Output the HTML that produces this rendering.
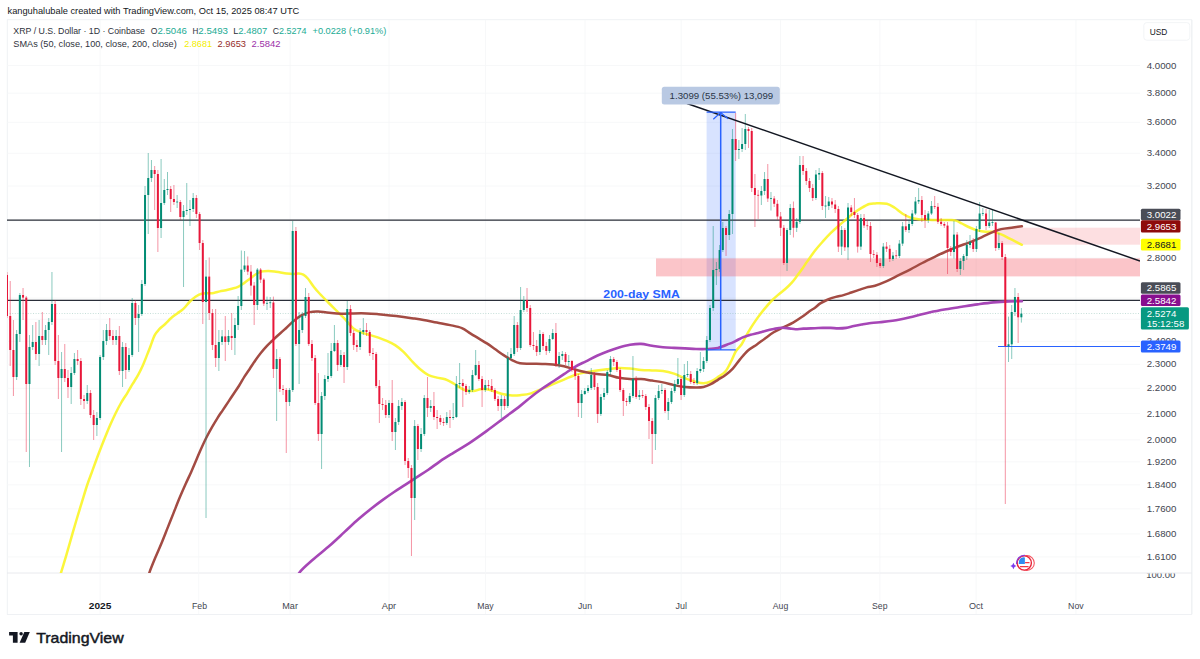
<!DOCTYPE html>
<html><head><meta charset="utf-8"><title>XRP / U.S. Dollar chart</title>
<style>html,body{margin:0;padding:0;background:#fff;}body{width:1200px;height:659px;overflow:hidden;}svg{display:block;}</style>
</head><body>
<svg width="1200" height="659" viewBox="0 0 1200 659" font-family="'Liberation Sans', Arial, Helvetica, sans-serif">
<rect width="1200" height="659" fill="#ffffff"/>
<rect x="7.25" y="19.75" width="1184.5" height="594.75" fill="none" stroke="#eceef2" stroke-width="0.8"/>
<path d="M7 573H1192" stroke="#e6e8ec" stroke-width="0.9"/>
<path d="M1192 20V614" stroke="#eef0f3" stroke-width="0.8"/>
<path d="M7 65.5H1140M7 93.2H1140M7 122.39H1140M7 153.26H1140M7 186H1140M7 220.85H1140M7 258.1H1140M7 298.12H1140M7 319.3H1140M7 341.35H1140M7 364.33H1140M7 388.33H1140M7 413.45H1140M7 439.8H1140M7 461.84H1140M7 484.83H1140M7 508.83H1140M7 533.95H1140M7 556.93H1140M100.1 20V614M198.7 20V614M290.1 20V614M389 20V614M485.5 20V614M585 20V614M681.2 20V614M780.5 20V614M879.8 20V614M976.1 20V614M1075.9 20V614" stroke="#f5f6f8" stroke-width="0.8" fill="none"/>
<defs><clipPath id="pane"><rect x="7" y="20" width="1133" height="553"/></clipPath></defs>
<g clip-path="url(#pane)">
<rect x="706.6" y="112" width="29.1" height="238" fill="#2962ff" fill-opacity="0.18"/>
<rect x="656" y="258.4" width="484" height="18" fill="#f23645" fill-opacity="0.29"/>
<rect x="996" y="227.7" width="144" height="17" fill="#f23645" fill-opacity="0.16"/>
<path d="M7 313.4H1140" stroke="#7fb8aa" stroke-width="0.7" stroke-dasharray="1 1.6" opacity="0.7"/>
<path d="M998 346.5H1140" stroke="#2962ff" stroke-width="1.1"/>
<path d="M7 220.2H1140M7 300.4H1140" stroke="#2a2e39" stroke-width="1.2"/>
<path d="M58 584C58.53 582.02 59.88 576.65 61.2 572.1C62.52 567.55 64.23 562.37 65.9 556.7C67.57 551.03 69.42 544.3 71.2 538.1C72.98 531.9 74.82 525.48 76.6 519.5C78.38 513.52 80.13 507.95 81.9 502.2C83.67 496.45 85.43 490.3 87.2 485C88.97 479.7 90.87 474.9 92.5 470.4C94.13 465.9 95.5 462.02 97 458C98.5 453.98 100 450.13 101.5 446.3C103 442.47 104.5 438.67 106 435C107.5 431.33 108.92 427.88 110.5 424.3C112.08 420.72 113.75 417.05 115.5 413.5C117.25 409.95 119.02 406.45 121 403C122.98 399.55 125.43 396.02 127.4 392.8C129.37 389.58 130.98 386.73 132.8 383.7C134.62 380.67 136.63 377.63 138.3 374.6C139.97 371.57 141.43 368.53 142.8 365.5C144.17 362.47 145.28 359.43 146.5 356.4C147.72 353.37 148.75 350.8 150.1 347.3C151.45 343.8 153.1 338.38 154.6 335.4C156.1 332.42 157.33 331.3 159.1 329.4C160.87 327.5 163.18 325.9 165.2 324C167.22 322.1 169.18 319.77 171.2 318C173.22 316.23 175.27 314.92 177.3 313.4C179.33 311.88 181.37 310.8 183.4 308.9C185.43 307 187.48 304.03 189.5 302C191.52 299.97 193.48 298.08 195.5 296.7C197.52 295.32 199.57 294.28 201.6 293.7C203.63 293.12 205.68 293.33 207.7 293.2C209.72 293.07 211.68 293.2 213.7 292.9C215.72 292.6 217.77 291.85 219.8 291.4C221.83 290.95 223.88 290.65 225.9 290.2C227.92 289.75 229.88 289.25 231.9 288.7C233.92 288.15 235.97 287.83 238 286.9C240.03 285.97 242.07 284.5 244.1 283.1C246.13 281.7 248.18 280.02 250.2 278.5C252.22 276.98 254.18 275.18 256.2 274C258.22 272.82 260.27 271.92 262.3 271.4C264.33 270.88 266.38 270.9 268.4 270.9C270.42 270.9 272.38 271.13 274.4 271.4C276.42 271.67 278.47 272.15 280.5 272.5C282.53 272.85 284.58 273.25 286.6 273.5C288.62 273.75 290.58 274 292.6 274C294.62 274 296.92 273.38 298.7 273.5C300.48 273.62 301.78 273.87 303.3 274.7C304.82 275.53 306.03 276.47 307.8 278.5C309.57 280.53 311.87 284.32 313.9 286.9C315.93 289.48 317.6 291.4 320 294C322.4 296.6 325.52 299.68 328.3 302.5C331.08 305.32 333.92 308.12 336.7 310.9C339.48 313.68 342.22 316.28 345 319.2C347.78 322.12 350.62 326.17 353.4 328.4C356.18 330.63 358.92 331.48 361.7 332.6C364.48 333.72 367.32 334.27 370.1 335.1C372.88 335.93 375.62 336.63 378.4 337.6C381.18 338.57 384.02 339.65 386.8 340.9C389.58 342.15 392.32 343.28 395.1 345.1C397.88 346.92 400.72 349.15 403.5 351.8C406.28 354.45 409.02 358.08 411.8 361C414.58 363.92 417.42 366.95 420.2 369.3C422.98 371.65 425.72 373.72 428.5 375.1C431.28 376.48 434.12 376.9 436.9 377.6C439.68 378.3 442.42 378.32 445.2 379.3C447.98 380.28 451.37 382.25 453.6 383.5C455.83 384.75 456.67 385.68 458.6 386.8C460.53 387.92 462.7 389.5 465.2 390.2C467.7 390.9 471.08 391.15 473.6 391C476.12 390.85 478.08 389.58 480.3 389.3C482.52 389.02 484.4 388.88 486.9 389.3C489.4 389.72 492.52 390.97 495.3 391.8C498.08 392.63 500.82 393.68 503.6 394.3C506.38 394.92 509.27 395.35 512 395.5C514.73 395.65 516.83 395.55 520 395.2C523.17 394.85 527.33 394.47 531 393.4C534.67 392.33 538.33 390.33 542 388.8C545.67 387.27 549.33 385.73 553 384.2C556.67 382.67 560.33 381.13 564 379.6C567.67 378.07 571.33 376.22 575 375C578.67 373.78 582.33 373.05 586 372.3C589.67 371.55 593.33 371.02 597 370.5C600.67 369.98 604.33 369.6 608 369.2C611.67 368.8 615.33 368.2 619 368.1C622.67 368 626.33 368.3 630 368.6C633.67 368.9 637.33 369.58 641 369.9C644.67 370.22 648.33 370.32 652 370.5C655.67 370.68 659.33 370.48 663 371C666.67 371.52 670.92 372.62 674 373.6C677.08 374.58 679.03 375.9 681.5 376.9C683.97 377.9 686.38 378.75 688.8 379.6C691.22 380.45 693.55 381.38 696 382C698.45 382.62 701.03 383.38 703.5 383.3C705.97 383.22 708.35 382.57 710.8 381.5C713.25 380.43 715.75 378.58 718.2 376.9C720.65 375.22 723.32 374.05 725.5 371.4C727.68 368.75 729.55 364.4 731.3 361C733.05 357.6 734.3 353.75 736 351C737.7 348.25 739.95 346.77 741.5 344.5C743.05 342.23 743.8 340.08 745.3 337.4C746.8 334.72 748.78 331.2 750.5 328.4C752.22 325.6 753.88 323.08 755.6 320.6C757.32 318.12 759.07 315.75 760.8 313.5C762.53 311.25 764.07 309.35 766 307.1C767.93 304.85 770.25 302.15 772.4 300C774.55 297.85 776.75 296.03 778.9 294.2C781.05 292.37 783.15 290.93 785.3 289C787.45 287.07 789.87 284.75 791.8 282.6C793.73 280.45 795.18 278.37 796.9 276.1C798.62 273.83 800.37 271.45 802.1 269C803.83 266.55 805.13 264.48 807.3 261.4C809.47 258.32 812.5 253.83 815.1 250.5C817.7 247.17 820.32 244.28 822.9 241.4C825.48 238.52 828.02 235.77 830.6 233.2C833.18 230.63 835.82 228.28 838.4 226C840.98 223.72 843.53 221.65 846.1 219.5C848.67 217.35 851.22 215.03 853.8 213.1C856.38 211.17 859.02 209.42 861.6 207.9C864.18 206.38 867.07 204.75 869.3 204C871.53 203.25 872.08 203.43 875 203.4C877.92 203.37 883.52 203.07 886.8 203.8C890.08 204.53 892.07 206.15 894.7 207.8C897.33 209.45 899.97 212.07 902.6 213.7C905.23 215.33 907.87 216.68 910.5 217.6C913.13 218.52 915.77 218.87 918.4 219.2C921.03 219.53 923.67 219.47 926.3 219.6C928.93 219.73 931.57 219.93 934.2 220C936.83 220.07 939.47 220 942.1 220C944.73 220 947.7 219.9 950 220C952.3 220.1 953.93 220.02 955.9 220.6C957.87 221.18 959.5 222.35 961.8 223.5C964.1 224.65 967.07 226.35 969.7 227.5C972.33 228.65 974.97 229.68 977.6 230.4C980.23 231.12 982.88 231.57 985.5 231.8C988.12 232.03 990.68 231.37 993.3 231.8C995.92 232.23 998.57 233.32 1001.2 234.4C1003.83 235.48 1006.47 236.98 1009.1 238.3C1011.73 239.62 1014.87 241.22 1017 242.3C1019.13 243.38 1021.08 244.38 1021.9 244.8" stroke="#faf520" stroke-width="2.5" stroke-opacity="0.88" fill="none" stroke-linejoin="round" stroke-linecap="round"/>
<path d="M146 584C146.58 582.05 147.87 576.88 149.5 572.3C151.13 567.72 153.77 561.43 155.8 556.5C157.83 551.57 159.73 547.47 161.7 542.7C163.67 537.93 165.63 532.83 167.6 527.9C169.57 522.97 171.53 518.03 173.5 513.1C175.47 508.17 177.42 503.07 179.4 498.3C181.38 493.53 183.42 488.93 185.4 484.5C187.38 480.07 189.45 475.87 191.3 471.7C193.15 467.53 194.88 463.28 196.5 459.5C198.12 455.72 199.35 452.67 201 449C202.65 445.33 204.58 441.1 206.4 437.5C208.22 433.9 210.08 430.6 211.9 427.4C213.72 424.2 215.48 421.18 217.3 418.3C219.12 415.42 220.97 412.83 222.8 410.1C224.63 407.37 226.48 404.63 228.3 401.9C230.12 399.17 231.88 396.43 233.7 393.7C235.52 390.97 237.38 388.38 239.2 385.5C241.02 382.62 242.78 379.28 244.6 376.4C246.42 373.52 248.27 370.93 250.1 368.2C251.93 365.47 253.78 362.57 255.6 360C257.42 357.43 259.18 355.07 261 352.8C262.82 350.53 264.67 348.37 266.5 346.4C268.33 344.43 270.17 342.77 272 341C273.83 339.23 275.43 337.68 277.5 335.8C279.57 333.92 281.83 332.07 284.4 329.7C286.97 327.33 290.07 323.98 292.9 321.6C295.73 319.22 298.57 316.98 301.4 315.4C304.23 313.82 307.08 312.75 309.9 312.1C312.72 311.45 315.48 311.42 318.3 311.5C321.12 311.58 323.73 312.28 326.8 312.6C329.87 312.92 333.67 313.22 336.7 313.4C339.73 313.58 342.22 313.7 345 313.7C347.78 313.7 349.78 313.45 353.4 313.4C357.02 313.35 362.53 313.27 366.7 313.4C370.87 313.53 374.5 313.87 378.4 314.2C382.3 314.53 385.92 314.93 390.1 315.4C394.28 315.87 399.6 316.5 403.5 317C407.4 317.5 410.17 317.9 413.5 318.4C416.83 318.9 419.6 319.3 423.5 320C427.4 320.7 432.45 321.75 436.9 322.6C441.35 323.45 446.03 324.18 450.2 325.1C454.37 326.02 458.55 326.72 461.9 328.1C465.25 329.48 467.52 331.68 470.3 333.4C473.08 335.12 475.83 336.73 478.6 338.4C481.37 340.07 484.12 341.58 486.9 343.4C489.68 345.22 492.52 347.35 495.3 349.3C498.08 351.25 500.82 353.3 503.6 355.1C506.38 356.9 509.27 358.73 512 360.1C514.73 361.47 516.83 362.7 520 363.3C523.17 363.9 527.33 363.58 531 363.7C534.67 363.82 538.33 363.88 542 364C545.67 364.12 549.33 364.03 553 364.4C556.67 364.77 560.33 365.35 564 366.2C567.67 367.05 571.33 368.48 575 369.5C578.67 370.52 582.33 371.53 586 372.3C589.67 373.07 593.33 373.65 597 374.1C600.67 374.55 604.33 374.38 608 375C611.67 375.62 615.33 377.12 619 377.8C622.67 378.48 626.33 378.88 630 379.1C633.67 379.32 637.33 378.85 641 379.1C644.67 379.35 648.33 380.05 652 380.6C655.67 381.15 659.33 381.65 663 382.4C666.67 383.15 670.33 384.33 674 385.1C677.67 385.87 681.33 386.6 685 387C688.67 387.4 692.92 387.5 696 387.5C699.08 387.5 701.03 387.55 703.5 387C705.97 386.45 708.35 385.43 710.8 384.2C713.25 382.97 715.75 381.13 718.2 379.6C720.65 378.07 723.07 376.83 725.5 375C727.93 373.17 730.38 371.2 732.8 368.6C735.22 366 737.47 362.42 740 359.4C742.53 356.38 745.18 352.98 748 350.5C750.82 348.02 754.12 346.47 756.9 344.5C759.68 342.53 761.9 340.73 764.7 338.7C767.5 336.67 770.7 334.13 773.7 332.3C776.7 330.47 779.47 329.32 782.7 327.7C785.93 326.08 789.87 324.42 793.1 322.6C796.33 320.78 799.32 318.73 802.1 316.8C804.88 314.87 807.65 312.52 809.8 311C811.95 309.48 813.25 308.97 815 307.7C816.75 306.43 818.13 304.77 820.3 303.4C822.47 302.03 825.42 300.58 828 299.5C830.58 298.42 833.22 297.63 835.8 296.9C838.38 296.17 840.92 295.83 843.5 295.1C846.08 294.37 848.72 293.37 851.3 292.5C853.88 291.63 856.43 290.75 859 289.9C861.57 289.05 864.03 288.1 866.7 287.4C869.37 286.7 871.65 286.75 875 285.7C878.35 284.65 882.85 282.85 886.8 281.1C890.75 279.35 894.75 277.17 898.7 275.2C902.65 273.23 906.57 271.33 910.5 269.3C914.43 267.27 918.35 265.03 922.3 263C926.25 260.97 930.25 259.02 934.2 257.1C938.15 255.18 942.07 253.25 946 251.5C949.93 249.75 953.85 248.13 957.8 246.6C961.75 245.07 965.75 243.85 969.7 242.3C973.65 240.75 977.57 239.05 981.5 237.3C985.43 235.55 990.02 233.17 993.3 231.8C996.58 230.43 997.9 229.82 1001.2 229.1C1004.5 228.38 1009.65 227.97 1013.1 227.5C1016.55 227.03 1020.43 226.5 1021.9 226.3" stroke="#a34b43" stroke-width="2.5" fill="none" stroke-linejoin="round" stroke-linecap="round"/>
<path d="M294 584C294.95 582.03 296.57 576.25 299.7 572.2C302.83 568.15 307.78 564.15 312.8 559.7C317.82 555.25 324.5 550.13 329.8 545.5C335.1 540.87 339.85 536.27 344.6 531.9C349.35 527.53 353.83 523.2 358.3 519.3C362.77 515.4 367.32 511.73 371.4 508.5C375.48 505.27 379.02 502.65 382.8 499.9C386.58 497.15 390.32 494.55 394.1 492C397.88 489.45 401.7 487.07 405.5 484.6C409.3 482.13 413.1 479.67 416.9 477.2C420.7 474.73 424.45 472.45 428.3 469.8C432.15 467.15 435.82 464.13 440 461.3C444.18 458.47 448.38 455.92 453.4 452.8C458.42 449.68 464.53 446.25 470.1 442.6C475.67 438.95 481.23 434.93 486.8 430.9C492.37 426.87 497.93 422.57 503.5 418.4C509.07 414.23 515.62 409.47 520.2 405.9C524.78 402.33 527.37 399.85 531 397C534.63 394.15 538.33 391.38 542 388.8C545.67 386.22 549.33 383.95 553 381.5C556.67 379.05 560.33 376.55 564 374.1C567.67 371.65 571.33 368.93 575 366.8C578.67 364.67 582.33 363.13 586 361.3C589.67 359.47 593.33 357.48 597 355.8C600.67 354.12 604.33 352.58 608 351.2C611.67 349.82 615.33 348.57 619 347.5C622.67 346.43 626.33 345.4 630 344.8C633.67 344.2 637.33 343.75 641 343.9C644.67 344.05 648.33 345.15 652 345.7C655.67 346.25 659.33 346.83 663 347.2C666.67 347.57 670.33 347.7 674 347.9C677.67 348.1 681.33 348.22 685 348.4C688.67 348.58 692.33 348.9 696 349C699.67 349.1 703.33 349.18 707 349C710.67 348.82 714.33 348.75 718 347.9C721.67 347.05 726.17 345 729 343.9C731.83 342.8 732.72 342.38 735 341.3C737.28 340.22 740.12 338.48 742.7 337.4C745.28 336.32 747.92 335.55 750.5 334.8C753.08 334.05 755.62 333.58 758.2 332.9C760.78 332.22 763.42 331.35 766 330.7C768.58 330.05 771.12 329.5 773.7 329C776.28 328.5 778.92 327.8 781.5 327.7C784.08 327.6 786.85 328.15 789.2 328.4C791.55 328.65 793.23 329.17 795.6 329.2C797.97 329.23 800.17 328.77 803.4 328.6C806.63 328.43 811.75 328.32 815 328.2C818.25 328.08 820.3 327.95 822.9 327.9C825.5 327.85 828.02 327.82 830.6 327.9C833.18 327.98 835.82 328.4 838.4 328.4C840.98 328.4 843.53 328.28 846.1 327.9C848.67 327.52 851.22 326.67 853.8 326.1C856.38 325.53 859.02 324.98 861.6 324.5C864.18 324.02 866.25 323.58 869.3 323.2C872.35 322.82 875 322.77 879.9 322.2C884.8 321.63 892.95 320.8 898.7 319.8C904.45 318.8 909.15 317.45 914.4 316.2C919.65 314.95 924.93 313.45 930.2 312.3C935.47 311.15 940.73 310.22 946 309.3C951.27 308.38 956.53 307.62 961.8 306.8C967.07 305.98 972.35 305.13 977.6 304.4C982.85 303.67 988.05 302.9 993.3 302.4C998.55 301.9 1004.33 301.58 1009.1 301.4C1013.87 301.22 1019.77 301.32 1021.9 301.3" stroke="#a646b6" stroke-width="2.6" fill="none" stroke-linejoin="round" stroke-linecap="round"/>
<path d="M16.63 330V380M19.84 293V342M29.47 335V467M32.68 325V350M39.1 320V366M45.52 325V345M48.73 318V355M51.94 272V325M61.57 352V452M71.2 367V404M74.41 353V375M87.25 385V404M96.88 412V436M100.09 355V420M103.3 330V360M106.51 324V345M116.14 330V345M122.56 342V387M128.98 348V372M132.19 298V357M138.61 305V352M141.82 280V316M145.03 186V286M148.24 153V234M151.45 160V182M161.08 159V238M164.29 179V205M167.5 172V195M177.13 195V208M183.55 205V287M186.76 183V215M189.97 200V226M193.18 193V212M206.02 260V518M218.86 330V371M222.07 330V345M228.49 330V345M234.91 318V355M238.12 296V330M241.33 250.5V310M244.54 251V272M257.38 268V310M267.01 296.6V310M270.22 297V308M276.64 349V421M289.48 388V406M292.69 221V392M299.11 312V384M302.32 312V333M305.53 288V318M321.58 392V469M324.79 375V400M328 353V382M331.21 343V378M334.42 325V352M340.84 350V367M347.26 301V370M360.1 328V350M363.31 318V335M388.99 400V418M395.41 418V450M398.62 400V425M401.83 398V410M414.67 420V520M421.09 428V452M424.3 395V436M430.72 400V412M446.77 412V425M453.19 403V420M456.4 376V418M459.61 363V388M469.24 386V394M472.45 370V392M475.66 350V376M485.29 380V392M501.34 395V418M507.76 352V408M510.97 348V360M514.18 316V356M520.6 287V350M523.81 296V312M539.86 330V355M549.49 335V353M552.7 329V340M559.12 352V368M562.33 351V360M568.75 355V366M581.59 390V418M584.8 388V395M588.01 385V393M591.22 368V390M600.85 394V416M604.06 388V400M607.27 370V395M610.48 356V375M629.74 393V404M632.95 356V398M639.37 390V400M655.42 395V450M658.63 385V400M661.84 384V394M668.26 398V420M671.47 388V404M674.68 380V393M677.89 358V386M684.31 364V397M687.52 361V377M697.15 368V385M700.36 352V373M703.57 357V372M706.78 336V363M709.99 305V342M713.2 226V311M716.41 262V285M719.62 245V272M722.83 222V252M729.25 210V240M732.46 129V234M738.88 140V159M742.09 128V152M745.3 114V150M761.35 186V205M764.56 172V195M770.98 192V210.5M787.03 228V271M790.24 204V235M796.66 218V232M799.87 156V224M815.92 170V200M819.13 168V180M825.55 196V218M828.76 197V210M841.6 226V255M848.02 203V260M860.86 214V250M883.33 243V268M892.96 252V261M899.38 240V258M902.59 222V246M909.01 220V233M912.22 210V226M915.43 197V215M918.64 188V204M928.27 211V223M931.48 201V215M953.95 221V258.6M960.37 258V275M963.58 254V270M966.79 240V260M970 235V248M976.42 226V252M979.63 202V232M982.84 208V216M989.26 210V228M992.47 210V226M998.89 233V250M1008.52 316.6V362M1011.73 305V359M1014.94 288V316M1021.36 308V322.6" stroke="#028c74" stroke-width="0.85" stroke-opacity="0.55" fill="none"/>
<path d="M7 272V318M10.21 281V366M13.42 320V396M23.05 288V320M26.26 296V452M35.89 322V360M42.31 312V345M55.15 300V365M58.36 335V399M64.78 344V382M67.99 370V398M77.62 350V365M80.83 358V405M84.04 395V409M90.46 390V418M93.67 410V440M109.72 318V340M112.93 330V345M119.35 326V375M125.77 343V379M135.4 300V325M154.66 166V210M157.87 170V252M170.71 186V212M173.92 185V205M180.34 200V220M196.39 195V218M199.6 212V250M202.81 240V324M209.23 257.5V320M212.44 309V350M215.65 309V367M225.28 316V361M231.7 313V350M247.75 256.5V275M250.96 265V295.6M254.17 282V325M260.59 268V283M263.8 278V306M273.43 296.6V378M279.85 357V392M283.06 385V395M286.27 388V453M295.9 227V346M308.74 293V346M311.95 340V361M315.16 355V405M318.37 373V441M337.63 340V371M344.05 352V383M350.47 305V336M353.68 330V350M356.89 340V352M366.52 323V336M369.73 330V356M372.94 348V360M376.15 352V388M379.36 380V423M382.57 398V410M385.78 400V418M392.2 380V441M405.04 400V465M408.25 458V478M411.46 465V556M417.88 424V460M427.51 377V417M433.93 392V420M437.14 410V429M440.35 415V425M443.56 418V426M449.98 410V428M462.82 379V407M466.03 384V395M478.87 361V381M482.08 376V407M488.5 380V390M491.71 379V392M494.92 388V401M498.13 396V411M504.55 396V410M517.39 322V352M527.02 288V312M530.23 305V347M533.44 332V350M536.65 340V356M543.07 332V350M546.28 342V355M555.91 323V367M565.54 352V365M571.96 360V372M575.17 368V380M578.38 374V417M594.43 372V390M597.64 383V423M613.69 357V366M616.9 360V372M620.11 368V392M623.32 388V416M626.53 398V406M636.16 376V399M642.58 390V398M645.79 394V410M649 404V439M652.21 418V464M665.05 388V413M681.1 377V400M690.73 371V384M693.94 378V385M726.04 226V256M735.67 113V161M748.51 127V148M751.72 128V192M754.93 174V227M758.14 190V219M767.77 164V202M774.19 196V207M777.4 200V220M780.61 212V236M783.82 225V265M793.45 201.5V237.5M803.08 156V175M806.29 168V185M809.5 178V192M812.71 184V201M822.34 171V210M831.97 198V208M835.18 200V213M838.39 206V252M844.81 228V251M851.23 205V216M854.44 198V218M857.65 213V252.6M864.07 214V228M867.28 220V230M870.49 222V262M873.7 250V258M876.91 252V267M880.12 258V268M886.54 242V252M889.75 245V262M896.17 250V259M905.8 214V232M921.85 196V222M925.06 210V228M934.69 196V209M937.9 203V224M941.11 218V226M944.32 222V228M947.53 222V274M950.74 246V256M957.16 232V272M973.21 238V252M986.05 209V230M995.68 222V251M1002.1 241V260M1005.31 254V504M1018.15 293V343" stroke="#e8173a" stroke-width="0.85" stroke-opacity="0.55" fill="none"/>
<g fill="#028c74"><rect x="15.63" y="334" width="2" height="43"/><rect x="18.84" y="295" width="2" height="39"/><rect x="28.47" y="347" width="2" height="37"/><rect x="31.68" y="342" width="2" height="5"/><rect x="38.1" y="336" width="2" height="18"/><rect x="44.52" y="330" width="2" height="10"/><rect x="47.73" y="322" width="2" height="8"/><rect x="50.94" y="304" width="2" height="18"/><rect x="60.57" y="369" width="2" height="9"/><rect x="70.2" y="373" width="2" height="14"/><rect x="73.41" y="359" width="2" height="14"/><rect x="86.25" y="393" width="2" height="8"/><rect x="95.88" y="418" width="2" height="7"/><rect x="99.09" y="357" width="2" height="61"/><rect x="102.3" y="341" width="2" height="16"/><rect x="105.51" y="330" width="2" height="11"/><rect x="115.14" y="336" width="2" height="4"/><rect x="121.56" y="347" width="2" height="24"/><rect x="127.98" y="355" width="2" height="15"/><rect x="131.19" y="303" width="2" height="52"/><rect x="137.61" y="314" width="2" height="4"/><rect x="140.82" y="284" width="2" height="30"/><rect x="144.03" y="195" width="2" height="89"/><rect x="147.24" y="178" width="2" height="17"/><rect x="150.45" y="170" width="2" height="8"/><rect x="160.08" y="203" width="2" height="25"/><rect x="163.29" y="190" width="2" height="13"/><rect x="166.5" y="189" width="2" height="1"/><rect x="176.13" y="201.6" width="2" height="0.8"/><rect x="182.55" y="211" width="2" height="6"/><rect x="185.76" y="210" width="2" height="1"/><rect x="188.97" y="209" width="2" height="1"/><rect x="192.18" y="198" width="2" height="11"/><rect x="205.02" y="276.6" width="2" height="25.4"/><rect x="217.86" y="342" width="2" height="16"/><rect x="221.07" y="336.4" width="2" height="5.6"/><rect x="227.49" y="336" width="2" height="6"/><rect x="233.91" y="325" width="2" height="13"/><rect x="237.12" y="306" width="2" height="19"/><rect x="240.33" y="269.6" width="2" height="36.4"/><rect x="243.54" y="265.5" width="2" height="4.1"/><rect x="256.38" y="269.6" width="2" height="35.4"/><rect x="266.01" y="302.9" width="2" height="0.8"/><rect x="269.22" y="302.35" width="2" height="0.8"/><rect x="275.64" y="359" width="2" height="10"/><rect x="288.48" y="390" width="2" height="12"/><rect x="291.69" y="231" width="2" height="159"/><rect x="298.11" y="330" width="2" height="14"/><rect x="301.32" y="316" width="2" height="14"/><rect x="304.53" y="297" width="2" height="19"/><rect x="320.58" y="396" width="2" height="38"/><rect x="323.79" y="379" width="2" height="17"/><rect x="327" y="376" width="2" height="3"/><rect x="330.21" y="351" width="2" height="25"/><rect x="333.42" y="343" width="2" height="8"/><rect x="339.84" y="355" width="2" height="10"/><rect x="346.26" y="309" width="2" height="58"/><rect x="359.1" y="332" width="2" height="15"/><rect x="362.31" y="330" width="2" height="2"/><rect x="387.99" y="403" width="2" height="12"/><rect x="394.41" y="422" width="2" height="10"/><rect x="397.62" y="406" width="2" height="16"/><rect x="400.83" y="402" width="2" height="4"/><rect x="413.67" y="426" width="2" height="72"/><rect x="420.09" y="434" width="2" height="15"/><rect x="423.3" y="398" width="2" height="36"/><rect x="429.72" y="406" width="2" height="2"/><rect x="445.77" y="417" width="2" height="6"/><rect x="452.19" y="417" width="2" height="1"/><rect x="455.4" y="384" width="2" height="33"/><rect x="458.61" y="383" width="2" height="1"/><rect x="468.24" y="390" width="2" height="2"/><rect x="471.45" y="375" width="2" height="15"/><rect x="474.66" y="365" width="2" height="10"/><rect x="484.29" y="385" width="2" height="5"/><rect x="500.34" y="399" width="2" height="7"/><rect x="506.76" y="358" width="2" height="48"/><rect x="509.97" y="354" width="2" height="4"/><rect x="513.18" y="325" width="2" height="29"/><rect x="519.6" y="310" width="2" height="38"/><rect x="522.81" y="300" width="2" height="10"/><rect x="538.86" y="334" width="2" height="18"/><rect x="548.49" y="339" width="2" height="12"/><rect x="551.7" y="333" width="2" height="6"/><rect x="558.12" y="356" width="2" height="8"/><rect x="561.33" y="354" width="2" height="2"/><rect x="567.75" y="361" width="2" height="1"/><rect x="580.59" y="394" width="2" height="9"/><rect x="583.8" y="391" width="2" height="3"/><rect x="587.01" y="388" width="2" height="3"/><rect x="590.22" y="375" width="2" height="13"/><rect x="599.85" y="397" width="2" height="17"/><rect x="603.06" y="393" width="2" height="4"/><rect x="606.27" y="372" width="2" height="21"/><rect x="609.48" y="359" width="2" height="13"/><rect x="628.74" y="396" width="2" height="6"/><rect x="631.95" y="379" width="2" height="17"/><rect x="638.37" y="395" width="2" height="2"/><rect x="654.42" y="398" width="2" height="36"/><rect x="657.63" y="391" width="2" height="7"/><rect x="660.84" y="390" width="2" height="1"/><rect x="667.26" y="402" width="2" height="9"/><rect x="670.47" y="391" width="2" height="11"/><rect x="673.68" y="384" width="2" height="7"/><rect x="676.89" y="379" width="2" height="5"/><rect x="683.31" y="375" width="2" height="20"/><rect x="686.52" y="374" width="2" height="1"/><rect x="696.15" y="371" width="2" height="12"/><rect x="699.36" y="369" width="2" height="2"/><rect x="702.57" y="361" width="2" height="8"/><rect x="705.78" y="340" width="2" height="21"/><rect x="708.99" y="308" width="2" height="32"/><rect x="712.2" y="270" width="2" height="38"/><rect x="715.41" y="269" width="2" height="1"/><rect x="718.62" y="250" width="2" height="19"/><rect x="721.83" y="228" width="2" height="22"/><rect x="728.25" y="214" width="2" height="21"/><rect x="731.46" y="139" width="2" height="75"/><rect x="737.88" y="149" width="2" height="1"/><rect x="741.09" y="144" width="2" height="5"/><rect x="744.3" y="129" width="2" height="15"/><rect x="760.35" y="191" width="2" height="4.5"/><rect x="763.56" y="179" width="2" height="12"/><rect x="769.98" y="198.1" width="2" height="0.8"/><rect x="786.03" y="230" width="2" height="33"/><rect x="789.24" y="208" width="2" height="22"/><rect x="795.66" y="221.8" width="2" height="6"/><rect x="798.87" y="165" width="2" height="56.8"/><rect x="814.92" y="174.5" width="2" height="23.5"/><rect x="818.13" y="173" width="2" height="1.5"/><rect x="824.55" y="205.6" width="2" height="0.8"/><rect x="827.76" y="201.5" width="2" height="4.5"/><rect x="840.6" y="230" width="2" height="16.6"/><rect x="847.02" y="207.5" width="2" height="39.8"/><rect x="859.86" y="218" width="2" height="28.6"/><rect x="882.33" y="246.6" width="2" height="19.4"/><rect x="891.96" y="255.6" width="2" height="3.4"/><rect x="898.38" y="243.6" width="2" height="12.4"/><rect x="901.59" y="226.3" width="2" height="17.3"/><rect x="908.01" y="224" width="2" height="6"/><rect x="911.22" y="213.5" width="2" height="10.5"/><rect x="914.43" y="201.5" width="2" height="12"/><rect x="917.64" y="200" width="2" height="1.5"/><rect x="927.27" y="213.5" width="2" height="6.5"/><rect x="930.48" y="206" width="2" height="7.5"/><rect x="952.95" y="234.6" width="2" height="17.4"/><rect x="959.37" y="261" width="2" height="8"/><rect x="962.58" y="256" width="2" height="5"/><rect x="965.79" y="245" width="2" height="11"/><rect x="969" y="242" width="2" height="3"/><rect x="975.42" y="229" width="2" height="20"/><rect x="978.63" y="213.5" width="2" height="15.5"/><rect x="981.84" y="213.1" width="2" height="0.8"/><rect x="988.26" y="222.5" width="2" height="3.5"/><rect x="991.47" y="222.1" width="2" height="0.8"/><rect x="997.89" y="243" width="2" height="5"/><rect x="1007.52" y="344.3" width="2" height="1.7"/><rect x="1010.73" y="312" width="2" height="32.3"/><rect x="1013.94" y="297" width="2" height="15"/><rect x="1020.36" y="313.6" width="2" height="3.7"/></g>
<g fill="#e8173a"><rect x="6" y="275" width="2" height="41"/><rect x="9.21" y="316" width="2" height="34"/><rect x="12.42" y="350" width="2" height="27"/><rect x="22.05" y="295" width="2" height="2.6"/><rect x="25.26" y="297.6" width="2" height="86.4"/><rect x="34.89" y="342" width="2" height="12"/><rect x="41.31" y="336" width="2" height="4"/><rect x="54.15" y="304" width="2" height="57"/><rect x="57.36" y="361" width="2" height="17"/><rect x="63.78" y="369" width="2" height="9"/><rect x="66.99" y="378" width="2" height="9"/><rect x="76.62" y="359" width="2" height="2"/><rect x="79.83" y="361" width="2" height="38"/><rect x="83.04" y="399" width="2" height="2"/><rect x="89.46" y="393" width="2" height="22"/><rect x="92.67" y="415" width="2" height="10"/><rect x="108.72" y="330" width="2" height="6"/><rect x="111.93" y="336" width="2" height="4"/><rect x="118.35" y="336" width="2" height="35"/><rect x="124.77" y="347" width="2" height="23"/><rect x="134.4" y="303" width="2" height="15"/><rect x="153.66" y="170" width="2" height="4"/><rect x="156.87" y="174" width="2" height="54"/><rect x="169.71" y="189" width="2" height="10"/><rect x="172.92" y="199" width="2" height="3"/><rect x="179.34" y="202" width="2" height="15"/><rect x="195.39" y="198" width="2" height="16"/><rect x="198.6" y="214" width="2" height="29"/><rect x="201.81" y="243" width="2" height="59"/><rect x="208.23" y="276.6" width="2" height="36.4"/><rect x="211.44" y="313" width="2" height="32"/><rect x="214.65" y="345" width="2" height="13"/><rect x="224.28" y="336.4" width="2" height="5.6"/><rect x="230.7" y="336" width="2" height="2"/><rect x="246.75" y="265.5" width="2" height="6.1"/><rect x="249.96" y="271.6" width="2" height="14"/><rect x="253.17" y="285.6" width="2" height="19.4"/><rect x="259.59" y="269.6" width="2" height="10"/><rect x="262.8" y="279.6" width="2" height="24"/><rect x="272.43" y="302.5" width="2" height="66.5"/><rect x="278.85" y="359" width="2" height="30"/><rect x="282.06" y="389" width="2" height="1"/><rect x="285.27" y="390" width="2" height="12"/><rect x="294.9" y="231" width="2" height="113"/><rect x="307.74" y="297" width="2" height="47"/><rect x="310.95" y="344" width="2" height="14"/><rect x="314.16" y="358" width="2" height="45"/><rect x="317.37" y="403" width="2" height="31"/><rect x="336.63" y="343" width="2" height="22"/><rect x="343.05" y="355" width="2" height="12"/><rect x="349.47" y="309" width="2" height="24"/><rect x="352.68" y="333" width="2" height="12"/><rect x="355.89" y="345" width="2" height="2"/><rect x="365.52" y="330" width="2" height="2"/><rect x="368.73" y="332" width="2" height="21"/><rect x="371.94" y="353" width="2" height="1"/><rect x="375.15" y="354" width="2" height="32"/><rect x="378.36" y="386" width="2" height="18"/><rect x="381.57" y="404" width="2" height="1"/><rect x="384.78" y="405" width="2" height="10"/><rect x="391.2" y="403" width="2" height="29"/><rect x="404.04" y="402" width="2" height="59"/><rect x="407.25" y="461" width="2" height="7"/><rect x="410.46" y="468" width="2" height="30"/><rect x="416.88" y="426" width="2" height="23"/><rect x="426.51" y="398" width="2" height="10"/><rect x="432.93" y="406" width="2" height="11"/><rect x="436.14" y="417" width="2" height="1"/><rect x="439.35" y="418" width="2" height="4"/><rect x="442.56" y="422" width="2" height="1"/><rect x="448.98" y="417" width="2" height="1"/><rect x="461.82" y="383" width="2" height="3"/><rect x="465.03" y="386" width="2" height="6"/><rect x="477.87" y="365" width="2" height="14"/><rect x="481.08" y="379" width="2" height="11"/><rect x="487.5" y="385" width="2" height="1"/><rect x="490.71" y="386" width="2" height="4"/><rect x="493.92" y="390" width="2" height="9"/><rect x="497.13" y="399" width="2" height="7"/><rect x="503.55" y="399" width="2" height="7"/><rect x="516.39" y="325" width="2" height="23"/><rect x="526.02" y="300" width="2" height="8"/><rect x="529.23" y="308" width="2" height="37"/><rect x="532.44" y="345" width="2" height="1"/><rect x="535.65" y="346" width="2" height="6"/><rect x="542.07" y="334" width="2" height="12"/><rect x="545.28" y="346" width="2" height="5"/><rect x="554.91" y="333" width="2" height="31"/><rect x="564.54" y="354" width="2" height="8"/><rect x="570.96" y="361" width="2" height="9"/><rect x="574.17" y="370" width="2" height="6"/><rect x="577.38" y="376" width="2" height="27"/><rect x="593.43" y="375" width="2" height="12"/><rect x="596.64" y="387" width="2" height="27"/><rect x="612.69" y="359" width="2" height="3"/><rect x="615.9" y="362" width="2" height="8"/><rect x="619.11" y="370" width="2" height="20"/><rect x="622.32" y="390" width="2" height="11"/><rect x="625.53" y="401" width="2" height="1"/><rect x="635.16" y="379" width="2" height="18"/><rect x="641.58" y="395" width="2" height="1"/><rect x="644.79" y="396" width="2" height="11"/><rect x="648" y="407" width="2" height="14"/><rect x="651.21" y="421" width="2" height="13"/><rect x="664.05" y="390" width="2" height="21"/><rect x="680.1" y="379" width="2" height="16"/><rect x="689.73" y="374" width="2" height="8"/><rect x="692.94" y="382" width="2" height="1"/><rect x="725.04" y="228" width="2" height="7"/><rect x="734.67" y="139" width="2" height="11"/><rect x="747.51" y="129" width="2" height="2"/><rect x="750.72" y="131" width="2" height="57"/><rect x="753.93" y="188" width="2" height="7"/><rect x="757.14" y="194.85" width="2" height="0.8"/><rect x="766.77" y="179" width="2" height="19.5"/><rect x="773.19" y="198.5" width="2" height="5.3"/><rect x="776.4" y="203.8" width="2" height="12.7"/><rect x="779.61" y="216.5" width="2" height="11.3"/><rect x="782.82" y="227.8" width="2" height="35.2"/><rect x="792.45" y="208" width="2" height="19.8"/><rect x="802.08" y="165" width="2" height="6"/><rect x="805.29" y="171" width="2" height="10"/><rect x="808.5" y="181" width="2" height="7"/><rect x="811.71" y="188" width="2" height="10"/><rect x="821.34" y="173" width="2" height="33"/><rect x="830.97" y="201.5" width="2" height="3"/><rect x="834.18" y="204.5" width="2" height="4.5"/><rect x="837.39" y="209" width="2" height="37.6"/><rect x="843.81" y="230" width="2" height="17.3"/><rect x="850.23" y="207.5" width="2" height="4.5"/><rect x="853.44" y="212" width="2" height="3"/><rect x="856.65" y="215" width="2" height="31.6"/><rect x="863.07" y="218" width="2" height="7.5"/><rect x="866.28" y="225.35" width="2" height="0.8"/><rect x="869.49" y="226" width="2" height="28"/><rect x="872.7" y="254" width="2" height="0.8"/><rect x="875.91" y="254.8" width="2" height="8.2"/><rect x="879.12" y="263" width="2" height="3"/><rect x="885.54" y="246.6" width="2" height="2.2"/><rect x="888.75" y="248.8" width="2" height="10.2"/><rect x="895.17" y="255.4" width="2" height="0.8"/><rect x="904.8" y="226.3" width="2" height="3.7"/><rect x="920.85" y="200" width="2" height="15"/><rect x="924.06" y="215" width="2" height="5"/><rect x="933.69" y="206" width="2" height="0.8"/><rect x="936.9" y="206.8" width="2" height="15"/><rect x="940.11" y="221.8" width="2" height="2.2"/><rect x="943.32" y="224" width="2" height="1.6"/><rect x="946.53" y="225.6" width="2" height="22.4"/><rect x="949.74" y="248" width="2" height="4"/><rect x="956.16" y="234.6" width="2" height="34.4"/><rect x="972.21" y="242" width="2" height="7"/><rect x="985.05" y="213.5" width="2" height="12.5"/><rect x="994.68" y="222.5" width="2" height="25.5"/><rect x="1001.1" y="243" width="2" height="14"/><rect x="1004.31" y="257" width="2" height="89"/><rect x="1017.15" y="297" width="2" height="20.3"/></g>
<path d="M687 103.5L1140 261" stroke="#131722" stroke-width="1.45"/>
<path d="M706.6 112.2H735.7M706.6 349.8H735.7M713.3 119.2L720.7 112.5L728 118.8" stroke="#2962ff" stroke-width="1.2" fill="none"/>
<path d="M720.7 349.8V112.8" stroke="#2962ff" stroke-width="1.5" fill="none"/>
<rect x="661.8" y="86.7" width="118" height="17.8" rx="2.5" fill="#b9c9e3"/>
<text x="669.6" y="98.7" font-size="9.1" fill="#2b3648" text-anchor="start" font-weight="normal" textLength="103.6" lengthAdjust="spacingAndGlyphs">1.3099 (55.53%) 13,099</text>
<text x="603.3" y="298.3" font-size="11" fill="#2962ff" text-anchor="start" font-weight="bold" textLength="76.6" lengthAdjust="spacingAndGlyphs">200-day SMA</text>
<g transform="translate(1024.3 563)"><circle cx="2.6" cy="0" r="7.4" fill="none" stroke="#f23645" stroke-width="1.1" opacity="0.85"/><circle cx="0" cy="0" r="7.1" fill="#ffffff" stroke="#e8263a" stroke-width="1.4"/><path d="M-5.3 -2.2A5.6 5.6 0 0 1 0.6 -5.6V1H-5.6Z" fill="#2f8cf0"/><path d="M0.8 -0.4H5.2M-4.3 3.6H4.3" stroke="#f23645" stroke-width="1.4"/><path d="M-7.6 1A7.6 7.6 0 0 1 0.5 -7.6" stroke="#8a3ad8" stroke-width="1.2" fill="none"/><path d="M-10.9 -0.2L-9.8 1.9L-7.8 3L-9.8 4.1L-10.9 6.2L-12 4.1L-14 3L-12 1.9Z" fill="#7b3cf0"/></g>
</g>
<text x="7.5" y="14.3" font-size="9.2" fill="#131722" text-anchor="start" font-weight="normal" textLength="291.8" lengthAdjust="spacingAndGlyphs">kanguhalubale created with TradingView.com, Oct 15, 2025 08:47 UTC</text>
<text x="13.3" y="34.3" font-size="8.8" fill="#2f323c" text-anchor="start" font-weight="normal" textLength="131.7" lengthAdjust="spacingAndGlyphs">XRP / U.S. Dollar · 1D · Coinbase</text>
<text x="150.8" y="34.3" font-size="8.8" fill="#2f323c" text-anchor="start" font-weight="normal" textLength="6.7" lengthAdjust="spacingAndGlyphs">O</text>
<text x="157.5" y="34.3" font-size="8.8" fill="#22ab94" text-anchor="start" font-weight="normal" textLength="29.4" lengthAdjust="spacingAndGlyphs">2.5046</text>
<text x="192.5" y="34.3" font-size="8.8" fill="#2f323c" text-anchor="start" font-weight="normal" textLength="5.8" lengthAdjust="spacingAndGlyphs">H</text>
<text x="198.3" y="34.3" font-size="8.8" fill="#22ab94" text-anchor="start" font-weight="normal" textLength="29.7" lengthAdjust="spacingAndGlyphs">2.5493</text>
<text x="233.2" y="34.3" font-size="8.8" fill="#2f323c" text-anchor="start" font-weight="normal" textLength="5.1" lengthAdjust="spacingAndGlyphs">L</text>
<text x="238.3" y="34.3" font-size="8.8" fill="#22ab94" text-anchor="start" font-weight="normal" textLength="28.9" lengthAdjust="spacingAndGlyphs">2.4807</text>
<text x="272.7" y="34.3" font-size="8.8" fill="#2f323c" text-anchor="start" font-weight="normal" textLength="6.3" lengthAdjust="spacingAndGlyphs">C</text>
<text x="279" y="34.3" font-size="8.8" fill="#22ab94" text-anchor="start" font-weight="normal" textLength="27.6" lengthAdjust="spacingAndGlyphs">2.5274</text>
<text x="312.5" y="34.3" font-size="8.8" fill="#22ab94" text-anchor="start" font-weight="normal" textLength="73.9" lengthAdjust="spacingAndGlyphs">+0.0228 (+0.91%)</text>
<text x="13.3" y="46.7" font-size="8.8" fill="#2f323c" text-anchor="start" font-weight="normal" textLength="163.4" lengthAdjust="spacingAndGlyphs">SMAs (50, close, 100, close, 200, close)</text>
<text x="184.2" y="46.7" font-size="8.8" fill="#f2ee00" text-anchor="start" font-weight="normal" textLength="27.9" lengthAdjust="spacingAndGlyphs">2.8681</text>
<text x="217.6" y="46.7" font-size="8.8" fill="#962c2a" text-anchor="start" font-weight="normal" textLength="28.4" lengthAdjust="spacingAndGlyphs">2.9653</text>
<text x="251.6" y="46.7" font-size="8.8" fill="#9c2fa8" text-anchor="start" font-weight="normal" textLength="28.9" lengthAdjust="spacingAndGlyphs">2.5842</text>
<rect x="1143.8" y="22.6" width="46" height="17.6" rx="3" fill="none" stroke="#eff1f4" stroke-width="0.8"/>
<text x="1158.5" y="34.5" font-size="8.6" fill="#131722" text-anchor="middle" font-weight="normal" textLength="17.6" lengthAdjust="spacingAndGlyphs">USD</text>
<text x="1146.7" y="68.6" font-size="9.7" fill="#434651" text-anchor="start" font-weight="normal" textLength="29.6" lengthAdjust="spacingAndGlyphs">4.0000</text>
<text x="1146.7" y="96.3" font-size="9.7" fill="#434651" text-anchor="start" font-weight="normal" textLength="29.6" lengthAdjust="spacingAndGlyphs">3.8000</text>
<text x="1146.7" y="125.49" font-size="9.7" fill="#434651" text-anchor="start" font-weight="normal" textLength="29.6" lengthAdjust="spacingAndGlyphs">3.6000</text>
<text x="1146.7" y="156.36" font-size="9.7" fill="#434651" text-anchor="start" font-weight="normal" textLength="29.6" lengthAdjust="spacingAndGlyphs">3.4000</text>
<text x="1146.7" y="189.1" font-size="9.7" fill="#434651" text-anchor="start" font-weight="normal" textLength="29.6" lengthAdjust="spacingAndGlyphs">3.2000</text>
<text x="1146.7" y="261.2" font-size="9.7" fill="#434651" text-anchor="start" font-weight="normal" textLength="29.6" lengthAdjust="spacingAndGlyphs">2.8000</text>
<text x="1146.7" y="344.45" font-size="9.7" fill="#434651" text-anchor="start" font-weight="normal" textLength="29.6" lengthAdjust="spacingAndGlyphs">2.4000</text>
<text x="1146.7" y="367.43" font-size="9.7" fill="#434651" text-anchor="start" font-weight="normal" textLength="29.6" lengthAdjust="spacingAndGlyphs">2.3000</text>
<text x="1146.7" y="391.43" font-size="9.7" fill="#434651" text-anchor="start" font-weight="normal" textLength="29.6" lengthAdjust="spacingAndGlyphs">2.2000</text>
<text x="1146.7" y="416.55" font-size="9.7" fill="#434651" text-anchor="start" font-weight="normal" textLength="29.6" lengthAdjust="spacingAndGlyphs">2.1000</text>
<text x="1146.7" y="442.9" font-size="9.7" fill="#434651" text-anchor="start" font-weight="normal" textLength="29.6" lengthAdjust="spacingAndGlyphs">2.0000</text>
<text x="1146.7" y="464.94" font-size="9.7" fill="#434651" text-anchor="start" font-weight="normal" textLength="29.6" lengthAdjust="spacingAndGlyphs">1.9200</text>
<text x="1146.7" y="487.93" font-size="9.7" fill="#434651" text-anchor="start" font-weight="normal" textLength="29.6" lengthAdjust="spacingAndGlyphs">1.8400</text>
<text x="1146.7" y="511.93" font-size="9.7" fill="#434651" text-anchor="start" font-weight="normal" textLength="29.6" lengthAdjust="spacingAndGlyphs">1.7600</text>
<text x="1146.7" y="537.05" font-size="9.7" fill="#434651" text-anchor="start" font-weight="normal" textLength="29.6" lengthAdjust="spacingAndGlyphs">1.6800</text>
<text x="1146.7" y="560.03" font-size="9.7" fill="#434651" text-anchor="start" font-weight="normal" textLength="29.6" lengthAdjust="spacingAndGlyphs">1.6100</text>
<defs><clipPath id="bot"><rect x="1140" y="573.4" width="52" height="20"/></clipPath></defs>
<g clip-path="url(#bot)"><text x="1146.2" y="577.5" font-size="9.2" fill="#434651" text-anchor="start" font-weight="normal" textLength="29" lengthAdjust="spacingAndGlyphs">100.00</text></g>
<rect x="1140.9" y="208.7" width="39.6" height="11.5" rx="1.5" fill="#4a4d57"/><text x="1146.7" y="217.85" font-size="9.7" fill="#ffffff" text-anchor="start" font-weight="normal" textLength="29.6" lengthAdjust="spacingAndGlyphs">3.0022</text>
<rect x="1140.9" y="220.2" width="39.6" height="12.4" rx="1.5" fill="#8e0b0b"/><text x="1146.7" y="229.8" font-size="9.7" fill="#ffffff" text-anchor="start" font-weight="normal" textLength="29.6" lengthAdjust="spacingAndGlyphs">2.9653</text>
<rect x="1140.9" y="238.7" width="39.6" height="11.8" rx="1.5" fill="#ffff00"/><text x="1146.7" y="248" font-size="9.7" fill="#131722" text-anchor="start" font-weight="normal" textLength="29.6" lengthAdjust="spacingAndGlyphs">2.8681</text>
<rect x="1140.9" y="282.3" width="39.6" height="11.5" rx="1.5" fill="#4a4d57"/><text x="1146.7" y="291.45" font-size="9.7" fill="#ffffff" text-anchor="start" font-weight="normal" textLength="29.6" lengthAdjust="spacingAndGlyphs">2.5865</text>
<rect x="1140.9" y="294.4" width="39.6" height="11.6" rx="1.5" fill="#880e8f"/><text x="1146.7" y="303.6" font-size="9.7" fill="#ffffff" text-anchor="start" font-weight="normal" textLength="29.6" lengthAdjust="spacingAndGlyphs">2.5842</text>
<rect x="1140.9" y="307.2" width="48" height="22.2" rx="1.5" fill="#089981"/>
<text x="1146.7" y="316.6" font-size="9.2" fill="#ffffff" text-anchor="start" font-weight="normal" textLength="29.6" lengthAdjust="spacingAndGlyphs">2.5274</text>
<text x="1146.7" y="326.6" font-size="9.2" fill="#ffffff" text-anchor="start" font-weight="normal" textLength="37.6" lengthAdjust="spacingAndGlyphs">15:12:58</text>
<rect x="1140.9" y="340.5" width="39.6" height="11.9" rx="1.5" fill="#2962ff"/><text x="1146.7" y="349.85" font-size="9.7" fill="#ffffff" text-anchor="start" font-weight="normal" textLength="29.6" lengthAdjust="spacingAndGlyphs">2.3749</text>
<text x="100.1" y="609" font-size="9.4" fill="#131722" text-anchor="middle" font-weight="bold" textLength="22.5" lengthAdjust="spacingAndGlyphs">2025</text>
<text x="199.5" y="609" font-size="9" fill="#434651" text-anchor="middle" font-weight="normal" textLength="15" lengthAdjust="spacingAndGlyphs">Feb</text>
<text x="290.1" y="609" font-size="9" fill="#434651" text-anchor="middle" font-weight="normal" textLength="15.6" lengthAdjust="spacingAndGlyphs">Mar</text>
<text x="389" y="609" font-size="9" fill="#434651" text-anchor="middle" font-weight="normal" textLength="14.4" lengthAdjust="spacingAndGlyphs">Apr</text>
<text x="485.5" y="609" font-size="9" fill="#434651" text-anchor="middle" font-weight="normal" textLength="16.4" lengthAdjust="spacingAndGlyphs">May</text>
<text x="585" y="609" font-size="9" fill="#434651" text-anchor="middle" font-weight="normal" textLength="14" lengthAdjust="spacingAndGlyphs">Jun</text>
<text x="681.2" y="609" font-size="9" fill="#434651" text-anchor="middle" font-weight="normal" textLength="11.4" lengthAdjust="spacingAndGlyphs">Jul</text>
<text x="780.5" y="609" font-size="9" fill="#434651" text-anchor="middle" font-weight="normal" textLength="15.4" lengthAdjust="spacingAndGlyphs">Aug</text>
<text x="879.8" y="609" font-size="9" fill="#434651" text-anchor="middle" font-weight="normal" textLength="15.4" lengthAdjust="spacingAndGlyphs">Sep</text>
<text x="976.1" y="609" font-size="9" fill="#434651" text-anchor="middle" font-weight="normal" textLength="14" lengthAdjust="spacingAndGlyphs">Oct</text>
<text x="1075.9" y="609" font-size="9" fill="#434651" text-anchor="middle" font-weight="normal" textLength="15.6" lengthAdjust="spacingAndGlyphs">Nov</text>
<g fill="#131722"><path d="M9.1 632H17.6V642.7H12.9V635.6H9.1Z"/><circle cx="21.1" cy="633.8" r="1.75"/><path d="M24.3 632H29.8L25.2 642.7H19.6Z"/></g>
<text x="36.2" y="642.7" font-size="15" fill="#131722" text-anchor="start" font-weight="normal" textLength="87.5" lengthAdjust="spacingAndGlyphs" stroke="#131722" stroke-width="0.45">TradingView</text>
</svg>
</body></html>
